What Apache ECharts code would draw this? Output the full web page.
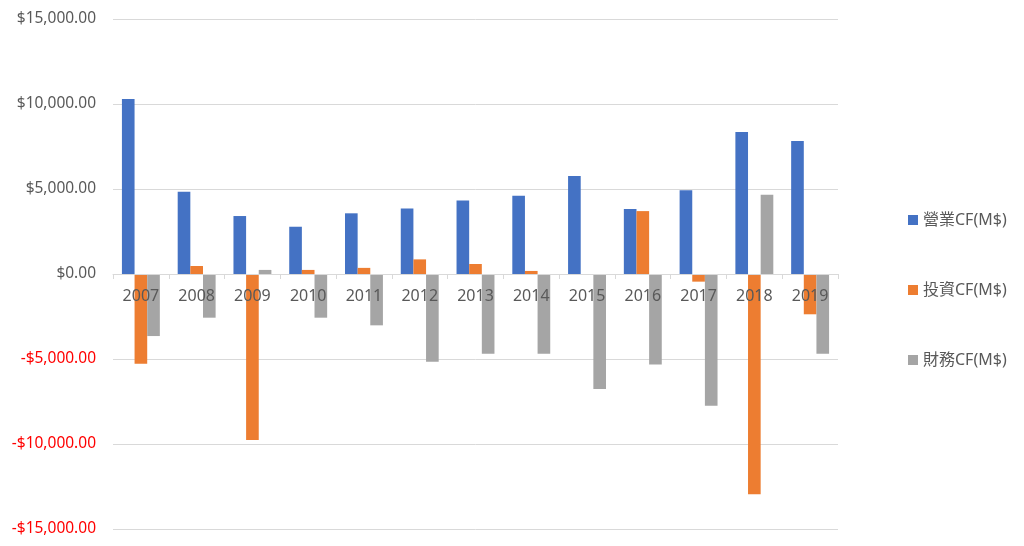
<!DOCTYPE html>
<html>
<head>
<meta charset="utf-8">
<script src="https://cdn.jsdelivr.net/npm/echarts@6/dist/echarts.min.js"></script>
<style>
html,body{margin:0;padding:0;background:#fff;}
#chart{width:1024px;height:546px;}
</style>
</head>
<body>
<div id="chart"></div>
<script>
const years = ['2007','2008','2009','2010','2011','2012','2013','2014','2015','2016','2017','2018','2019'];
const seriesNames = ['營業CF(M$)','投資CF(M$)','財務CF(M$)'];
const operatingCF = [10300, 4840, 3410, 2780, 3570, 3860, 4330, 4610, 5760, 3820, 4920, 8350, 7820];
const investingCF = [-5280, 470, -9760, 240, 360, 860, 590, 180, 0, 3700, -450, -12960, -2370];
const financingCF = [-3650, -2570, 240, -2570, -3020, -5160, -4690, -4690, -6760, -5330, -7750, 4660, -4690];
const colors = ['#4472C4', '#ED7D31', '#A5A5A5'];

const font = "'Noto Sans', 'Noto Sans CJK TC', sans-serif";
function fmt(v){
  const a = Math.abs(v).toLocaleString('en-US',{minimumFractionDigits:2,maximumFractionDigits:2});
  return v < 0 ? '{neg|-$' + a + '}' : '$' + a;
}
const chart = echarts.init(document.getElementById('chart'));
chart.setOption({
  animation:false,
  backgroundColor:'#fff',
  textStyle:{fontFamily:font},
  grid:{left:113, right:186, top:19, bottom:17, containLabel:false, outerBoundsMode:'none'},
  legend:{
    orient:'vertical', left:903, top:207, itemGap:54,
    itemWidth:10, itemHeight:10, icon:'rect',
    textStyle:{fontSize:16, color:'#595959', fontFamily:font},
    data:seriesNames
  },
  xAxis:{
    type:'category', data:years,
    offset:-255,
    axisLine:{onZero:false, lineStyle:{color:'#d9d9d9', width:1}},
    axisTick:{show:true, length:5, lineStyle:{color:'#d9d9d9'}},
    axisLabel:{fontSize:16, color:'#595959', margin:14, fontFamily:font},
    z:10
  },
  yAxis:{
    type:'value', min:-15000, max:15000, interval:5000,
    axisLine:{show:false}, axisTick:{show:false},
    splitLine:{lineStyle:{color:'#d9d9d9', width:1}},
    axisLabel:{
      fontSize:15.5, color:'#595959', margin:17, fontFamily:font,
      formatter:fmt,
      rich:{neg:{color:'#FF0000', fontSize:15.5, fontFamily:font}}
    }
  },
  series:[
    {name:seriesNames[0], type:'bar', data:operatingCF, itemStyle:{color:colors[0]}, barGap:'0%', barCategoryGap:'32%'},
    {name:seriesNames[1], type:'bar', data:investingCF, itemStyle:{color:colors[1]}, barGap:'0%', barCategoryGap:'32%'},
    {name:seriesNames[2], type:'bar', data:financingCF, itemStyle:{color:colors[2]}, barGap:'0%', barCategoryGap:'32%'}
  ]
});
</script>
</body>
</html>
